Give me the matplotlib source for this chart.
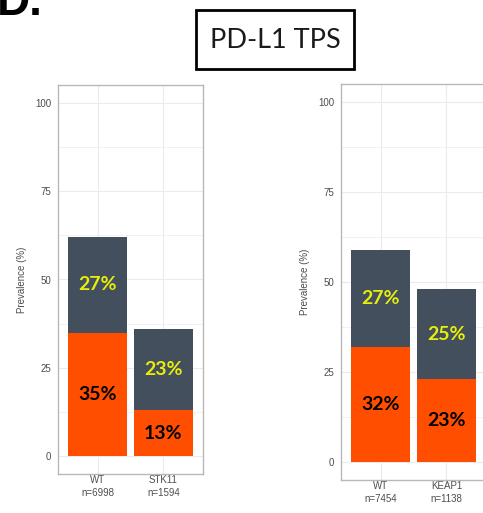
import matplotlib
matplotlib.use("Agg")
import matplotlib.pyplot as plt
from matplotlib.patches import Rectangle
from matplotlib.ticker import MultipleLocator

# Data: PD-L1 TPS prevalence (%) by mutation status
left_groups = ["WT\nn=6998", "STK11\nn=1594"]
left_low = [35, 13]      # orange segment (bottom)
left_high = [27, 23]     # slate segment (top)

right_groups = ["WT\nn=7454", "KEAP1\nn=1138"]
right_low = [32, 23]
right_high = [27, 25]

yticks = [0, 25, 50, 75, 100]

ORANGE = "#ff4e00"
SLATE = "#434f5c"
YELLOW = "#e6ee0a"
GRID = "#ebebeb"
BORDER = "#b8b8b8"
TICKTXT = "#4d4d4d"

W, H = 483, 513
fig = plt.figure(figsize=(W / 100, H / 100), dpi=100)


def px_axes(x0, y0, x1, y1):
    return fig.add_axes([x0 / W, 1 - y1 / H, (x1 - x0) / W, (y1 - y0) / H])


def panel(ax, groups, low, high):
    x = list(range(1, len(groups) + 1))
    ax.bar(x, low, width=0.9, color=ORANGE, zorder=3)
    ax.bar(x, high, bottom=low, width=0.9, color=SLATE, zorder=3)
    for xi, lo, hi in zip(x, low, high):
        ax.text(xi, lo / 2, f"{lo}%", ha="center", va="center", color="black",
                fontsize=14, fontweight="bold", family="Lato", zorder=4)
        ax.text(xi, lo + hi / 2, f"{hi}%", ha="center", va="center", color=YELLOW,
                fontsize=14, fontweight="bold", family="Lato", zorder=4)
    ax.set_xlim(0.4, len(groups) + 0.6)
    ax.set_ylim(-5, 105)
    ax.set_xticks(x)
    ax.set_xticklabels(groups, fontsize=7, color=TICKTXT, family="Liberation Sans",
                       linespacing=1.35)
    ax.set_yticks(yticks)
    ax.set_yticklabels([str(t) for t in yticks], fontsize=7, color=TICKTXT,
                       family="Liberation Sans")
    ax.yaxis.set_minor_locator(MultipleLocator(12.5))
    ax.tick_params(axis="both", which="both", length=0)
    ax.tick_params(axis="y", pad=5)
    ax.tick_params(axis="x", pad=1)
    ax.grid(True, which="major", color=GRID, linewidth=0.8, zorder=0)
    ax.grid(True, which="minor", axis="y", color=GRID, linewidth=0.5, zorder=0)
    ax.set_axisbelow(True)
    for s in ax.spines.values():
        s.set_color(BORDER)
        s.set_linewidth(1.0)
    ax.set_ylabel("Prevalence (%)", fontsize=7, color=TICKTXT,
                  family="Liberation Sans", labelpad=6)


ax1 = px_axes(58, 85, 203, 474)
panel(ax1, left_groups, left_low, left_high)

ax2 = px_axes(341, 84, 486, 480)
panel(ax2, right_groups, right_low, right_high)

# Boxed panel title
fig.patches.append(Rectangle((196 / W, 1 - 69 / H), 158 / W, 59 / H,
                             transform=fig.transFigure, facecolor="white",
                             edgecolor="black", linewidth=2))
fig.text(275 / W, 1 - 40 / H, "PD-L1 TPS", ha="center", va="center",
         fontsize=19.5, family="Lato", color="#1a1a1a")

# Panel letter
fig.text(-3 / W, 1 - 15 / H, "D.", ha="left", va="baseline", fontsize=33,
         fontweight="bold", family="Liberation Sans", color="black")

fig.savefig("out.png", dpi=100)
